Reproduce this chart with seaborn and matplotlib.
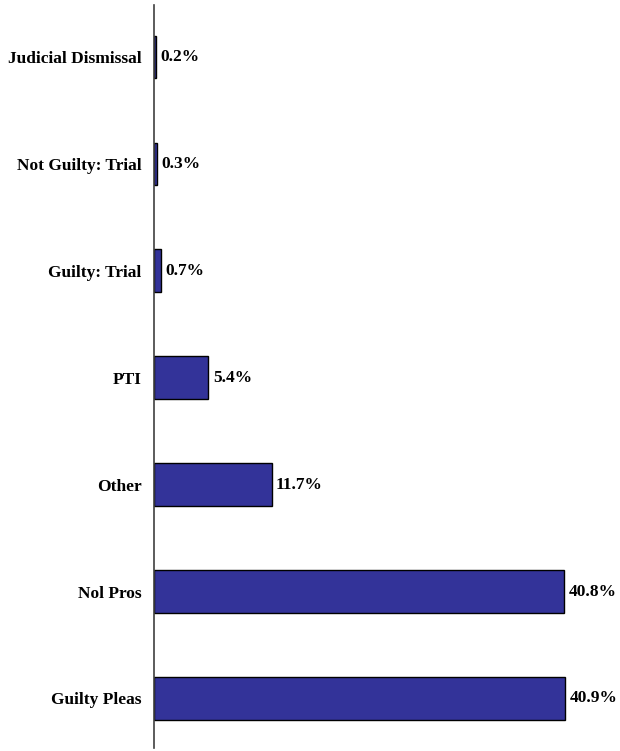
import matplotlib
matplotlib.use("Agg")
import pandas as pd
import seaborn as sns
import matplotlib.pyplot as plt

# dispositions, top to bottom
categories = ["Judicial Dismissal", "Not Guilty: Trial", "Guilty: Trial", "PTI",
              "Other", "Nol Pros", "Guilty Pleas"]
percents = [0.2, 0.3, 0.7, 5.4, 11.7, 40.8, 40.9]

df = pd.DataFrame({"category": categories, "percent": percents})

sns.set_style("white")
plt.rcParams["font.family"] = ["Liberation Serif", "DejaVu Serif"]
plt.rcParams["font.weight"] = "bold"
plt.rcParams["text.color"] = "black"
plt.rcParams["ytick.color"] = "black"

fig = plt.figure(figsize=(6.2, 7.51), dpi=100)
ax = fig.add_axes([154 / 620, 3 / 751, 1 - 154 / 620, 743 / 751])

sns.barplot(data=df, x="percent", y="category", order=categories, orient="h",
            color="#333399", saturation=1, edgecolor="black", linewidth=1.0,
            width=0.4, ax=ax)

for i, v in enumerate(percents):
    ax.text(v + 0.45, i, f"{v:.1f}%", va="center", ha="left",
            fontsize=12.5, fontweight="bold", color="black")

ax.set_xlim(0, 46.4)
ax.set_ylim(6.463, -0.486)
ax.set_xlabel("")
ax.set_ylabel("")
ax.set_xticks([])
ax.tick_params(axis="y", length=0, pad=9, labelsize=12.5, labelcolor="black")
for lab in ax.get_yticklabels():
    lab.set_fontweight("bold")
for s in ["top", "right", "bottom"]:
    ax.spines[s].set_visible(False)
ax.spines["left"].set_color("#404040")
ax.spines["left"].set_linewidth(1.2)

fig.savefig("out.png", dpi=100)
